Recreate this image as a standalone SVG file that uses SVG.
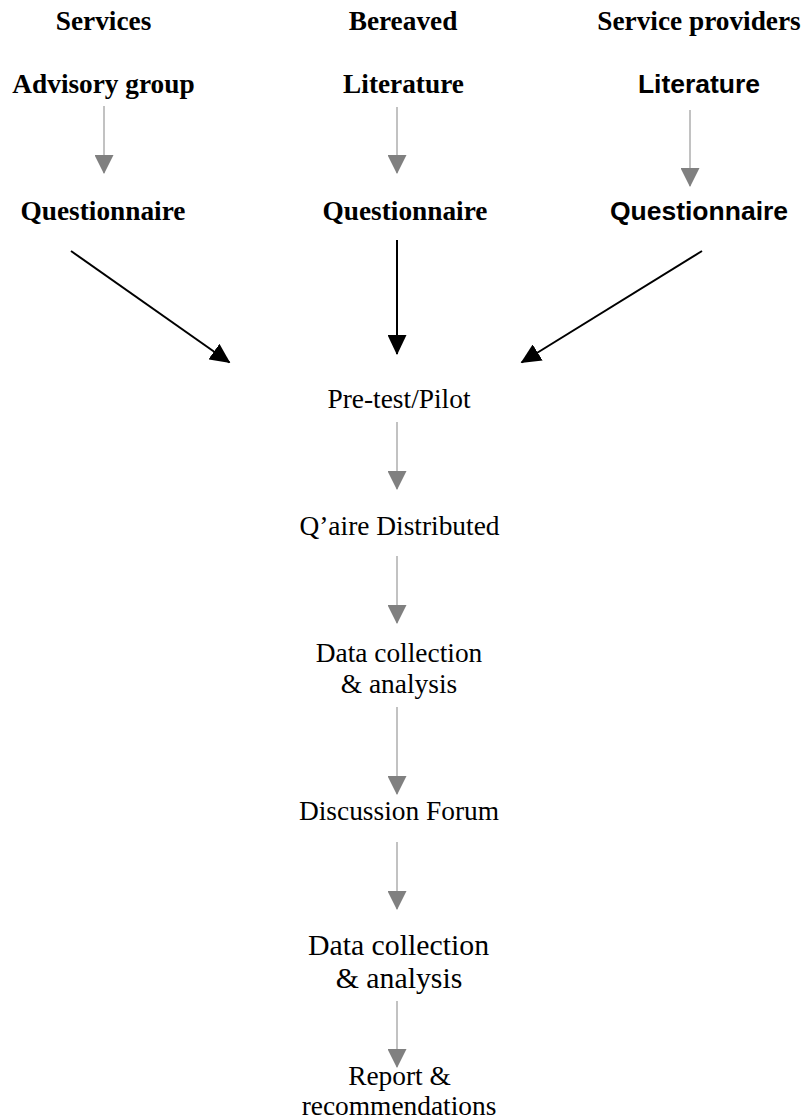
<svg xmlns="http://www.w3.org/2000/svg" width="804" height="1120" viewBox="0 0 804 1120">
<style>
text{text-anchor:middle;fill:#000}
.hb{font-family:"Liberation Serif","Times New Roman",serif;font-weight:bold;font-size:27.3px}
.sb{font-family:"Liberation Sans",Arial,sans-serif;font-weight:bold;font-size:26.5px}
.r{font-family:"Liberation Serif","Times New Roman",serif;font-size:27.4px}
.r2{font-family:"Liberation Serif","Times New Roman",serif;font-size:29.8px}
.g{stroke:#999;stroke-width:1.2;fill:none}
.k{stroke:#000;stroke-width:2;fill:none}
</style>
<defs>
<marker id="ag" viewBox="0 0 19 19" refX="18" refY="9.5" markerWidth="19" markerHeight="19" markerUnits="userSpaceOnUse" orient="auto">
<path d="M0,0 L19,9.5 L0,19 Z" fill="#808080"/>
</marker>
<marker id="ak" viewBox="0 0 20 19" refX="19" refY="9.5" markerWidth="20" markerHeight="19" markerUnits="userSpaceOnUse" orient="auto">
<path d="M0,0 L20,9.5 L0,19 Z" fill="#000"/>
</marker>
</defs>
<g id="h-services"><text class="hb" x="103.5" y="29.5">Services</text></g>
<g id="h-bereaved"><text class="hb" x="403" y="29.5">Bereaved</text></g>
<g id="h-providers"><text class="hb" x="699" y="30">Service providers</text></g>
<g id="n-advisory"><text class="hb" x="103.5" y="93">Advisory group</text></g>
<g id="n-lit-b"><text class="hb" x="403.5" y="92.5">Literature</text></g>
<g id="n-lit-p"><text class="sb" x="699" y="92.5">Literature</text></g>
<g id="n-q-s"><text class="hb" x="103" y="219.5">Questionnaire</text></g>
<g id="n-q-b"><text class="hb" x="405" y="220">Questionnaire</text></g>
<g id="n-q-p"><text class="sb" x="699" y="219.5">Questionnaire</text></g>
<g id="n-pretest"><text class="r" x="399" y="408">Pre-test/Pilot</text></g>
<g id="n-distributed"><text class="r" x="399.5" y="535">Q’aire Distributed</text></g>
<g id="n-data1"><text class="r" x="399" y="662">Data collection</text><text class="r" x="399" y="693">&amp; analysis</text></g>
<g id="n-forum"><text class="r" x="399" y="820">Discussion Forum</text></g>
<g id="n-data2"><text class="r2" x="398.5" y="955">Data collection</text><text class="r2" x="399" y="988">&amp; analysis</text></g>
<g id="n-report"><text class="r" x="399.5" y="1085">Report &amp;</text><text class="r" x="399" y="1115">recommendations</text></g>
<g id="connectors">
<line class="g" x1="104" y1="106" x2="104" y2="173" marker-end="url(#ag)"/>
<line class="g" x1="397" y1="107" x2="397" y2="173" marker-end="url(#ag)"/>
<line class="g" x1="690" y1="110" x2="690" y2="186" marker-end="url(#ag)"/>
<line class="k" x1="71" y1="251" x2="229.5" y2="362.5" marker-end="url(#ak)"/>
<line class="k" x1="397" y1="240" x2="397" y2="354" marker-end="url(#ak)"/>
<line class="k" x1="702" y1="251" x2="521.5" y2="362.5" marker-end="url(#ak)"/>
<line class="g" x1="397" y1="422" x2="397" y2="489" marker-end="url(#ag)"/>
<line class="g" x1="397" y1="556" x2="397" y2="623" marker-end="url(#ag)"/>
<line class="g" x1="397" y1="707" x2="397" y2="794" marker-end="url(#ag)"/>
<line class="g" x1="397" y1="842" x2="397" y2="909" marker-end="url(#ag)"/>
<line class="g" x1="397" y1="1001" x2="397" y2="1067" marker-end="url(#ag)"/>
</g>
</svg>
